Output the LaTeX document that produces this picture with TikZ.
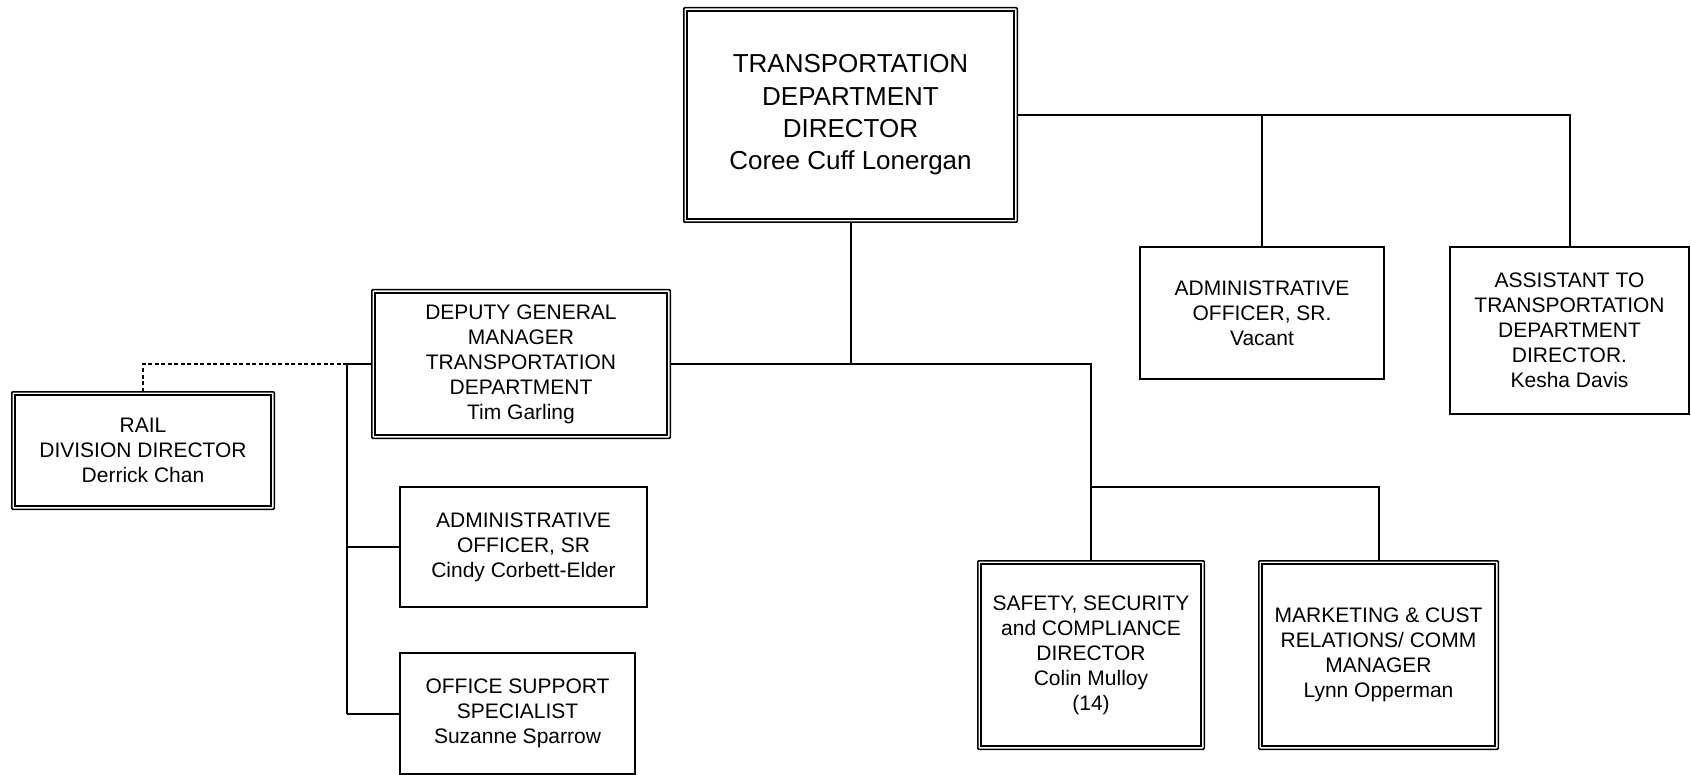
\documentclass[tikz,border=0pt]{standalone}
\usepackage{fontspec}
\setmainfont{Liberation Sans}
\usetikzlibrary{calc}
\begin{document}
\begin{tikzpicture}[x=1pt,y=-1pt,
  conn/.style={line width=2pt},
  dashconn/.style={line width=2pt, dash pattern=on 4pt off 2.5pt},
  sbox/.style 2 args={draw, line width=2pt, align=center, inner sep=0pt,
    minimum width=#1pt, minimum height=#2pt,
    font=\fontsize{21}{25}\selectfont},
  dbox/.style 2 args={draw, line width=1.5pt, rounded corners=1pt,
    align=center, inner sep=0pt,
    minimum width=#1pt-1.5pt, minimum height=#2pt-1.5pt,
    font=\fontsize{21}{25}\selectfont},
  innerline/.style={draw, line width=2.3pt},
  bigfont/.style={font=\fontsize{26}{32.4}\selectfont}]
\useasboundingbox (0,0) rectangle (1691,775);

% boxes
\node[dbox={335}{216}, bigfont] (top) at (850.5,115)
  {TRANSPORTATION\\DEPARTMENT\\DIRECTOR\\Coree Cuff Lonergan};
\node[sbox={244}{132}] (admv) at (1262,313)
  {ADMINISTRATIVE\\OFFICER, SR.\\Vacant};
\node[sbox={239}{167}] (asst) at (1569.5,330.5)
  {ASSISTANT TO\\TRANSPORTATION\\DEPARTMENT\\DIRECTOR.\\Kesha Davis};
\node[dbox={300}{150}] (dgm) at (521,364)
  {DEPUTY GENERAL\\MANAGER\\TRANSPORTATION\\DEPARTMENT\\Tim Garling};
\node[dbox={228}{190}] (safety) at (1091,655)
  {SAFETY, SECURITY\\and COMPLIANCE\\DIRECTOR\\Colin Mulloy\\(14)};
\node[dbox={241}{190}] (mkt) at (1378.5,655)
  {MARKETING \& CUST\\RELATIONS/ COMM\\MANAGER\\Lynn Opperman};
\node[dbox={264}{119}] (rail) at (143,450.5)
  {RAIL\\DIVISION DIRECTOR\\Derrick Chan};
\node[sbox={247}{120}] (aosr) at (523.5,547)
  {ADMINISTRATIVE\\OFFICER, SR\\Cindy Corbett-Elder};
\node[sbox={235}{121}] (oss) at (517.5,713.5)
  {OFFICE SUPPORT\\SPECIALIST\\Suzanne Sparrow};

% inner frame of the double-bordered boxes
\foreach \n in {top,dgm,safety,mkt,rail}
  \draw[innerline] ($(\n.south west)+(3.7pt,3.7pt)$) rectangle ($(\n.north east)-(3.7pt,3.7pt)$);

% bus points
\coordinate (lbus) at (347,364);
\coordinate (lbot) at (347,713.5);
\coordinate (midbus) at (1091,487);

% director to staff on the right
\draw[conn] (top.east) -- (top.east -| asst.north) -- (asst.north);
\draw[conn] (top.east -| admv.north) -- (admv.north);

% director down to the deputy line
\draw[conn] (top.south) -- (top.south |- dgm.east);
\draw[conn] (dgm.east) -- (dgm.east -| safety.north) -- (safety.north);
\draw[conn] (midbus) -- (midbus -| mkt.north) -- (mkt.north);

% deputy's staff on the left
\draw[conn] (dgm.west) -- (lbus) -- (lbot);
\draw[conn] (lbus |- aosr.west) -- (aosr.west);
\draw[conn] (lbot) -- (oss.west);
\draw[dashconn] (lbus) -- (lbus -| rail.north) -- (rail.north);
\end{tikzpicture}
\end{document}
